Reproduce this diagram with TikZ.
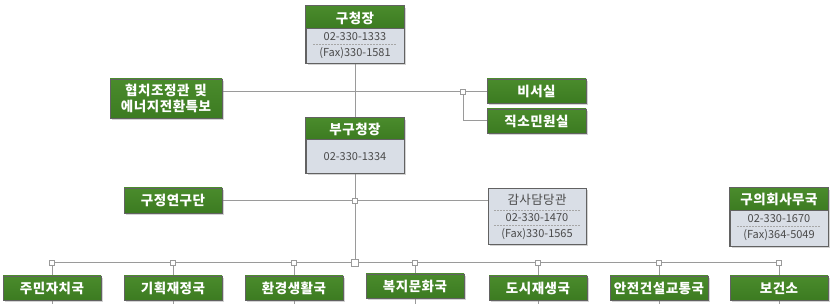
\documentclass[tikz,border=0pt]{standalone}
\usepackage{fontspec}
\setmainfont{Noto Sans CJK KR}
\usetikzlibrary{shadows,calc}
\definecolor{hdgreen}{HTML}{3C7B21}
\definecolor{hdgreenT}{HTML}{4A8B2C}
\definecolor{bodygray}{HTML}{D9DEE6}
\definecolor{boxline}{HTML}{626262}
\definecolor{conn}{HTML}{9A9A9A}
\definecolor{numtxt}{HTML}{4A4A4A}
\newcommand{\hdfont}{\bfseries\fontsize{13.5}{15}\selectfont\addfontfeatures{LetterSpace=4}}
\tikzset{
  greenbox/.style={draw=boxline, line width=0.9pt, top color=hdgreenT, bottom color=hdgreen,
    minimum width=98pt, minimum height=24pt, inner sep=0pt,
    text=white, font=\hdfont,
    drop shadow={shadow xshift=1.6pt, shadow yshift=-1.6pt, opacity=0.35}},
  graybox/.style={draw=boxline, line width=0.9pt, fill=bodygray,
    minimum width=98pt, inner sep=0pt,
    drop shadow={shadow xshift=1.6pt, shadow yshift=-1.6pt, opacity=0.35}},
  hdtxt/.style={text=white, font=\hdfont, inner sep=0pt},
  numtext/.style={text=numtxt, font=\fontsize{11}{12}\selectfont, inner sep=0pt},
  gtitle/.style={text=numtxt, font=\fontsize{12.5}{14}\selectfont\addfontfeatures{LetterSpace=3}, inner sep=0pt},
  connector/.style={draw=conn, line width=1pt},
  junc/.style={draw=conn, fill=white, line width=0.8pt, minimum size=4.5pt, inner sep=0pt},
  bigjunc/.style={draw=conn, fill=white, line width=0.8pt, minimum size=7pt, inner sep=0pt},
  dashsep/.style={draw=gray!70, line width=0.6pt, dash pattern=on 1.5pt off 1.5pt},
}
\begin{document}
\begin{tikzpicture}[x=1pt,y=-1pt]
\useasboundingbox (0,0) rectangle (833,304);
% ---- junction coordinates
\node[junc] (jr) at (463,92) {};
\node[junc] (jm) at (355,201) {};
\node[bigjunc] (jc) at (355,263) {};
\foreach \n/\x in {j1/52,j2/173,j3/294,j4/415,j5/538,j6/659,j7/779}{
  \node[junc] (\n) at (\x,263) {};
  \coordinate (\n e) at (\x,304);
}
% ---- connectors (behind boxes)
\coordinate (gcb) at (355,63);
\coordinate (bgt) at (355,118);
\coordinate (bgb) at (355,173);
\draw[connector] (gcb) -- (bgt);
\draw[connector] (bgb) -- (jm) -- (jc);
\draw[connector] (222,92) -- (jr) -- (487,92);
\draw[connector] (jr) |- (487,121);
\draw[connector] (222,201) -- (jm) -- (488,201);
\draw[connector] (j1) -- (j7);
\foreach \n in {j1,j2,j3,j4,j5,j6,j7}{ \draw[connector] (\n) -- (\n e); }
% redraw junction squares on top
\node[junc] at (jr) {};
\node[junc] at (jm) {};
\foreach \n in {j1,j2,j3,j4,j5,j6,j7}{ \node[junc] at (\n) {}; }
\node[bigjunc] at (jc) {};
% ---- 구청장
\node[graybox, minimum height=57pt] (gc) at (355,34.5) {};
\fill[top color=hdgreenT, bottom color=hdgreen] ([xshift=0.45pt,yshift=-0.45pt]gc.north west) rectangle ($(gc.north east)+(-0.45,23)$);
\draw[boxline, line width=0.9pt] (gc.north west) rectangle (gc.south east);
\draw[boxline, line width=0.6pt] ($(gc.north west)+(0,23)$) -- ($(gc.north east)+(0,23)$);
\node[hdtxt] (gct) at (355,18) {구청장};
\node[numtext] (gcn) at (355,37) {02-330-1333};
\draw[dashsep] (313,44) -- (397,44);
\node[numtext] (gcf) at (355,53.5) {(Fax)330-1581};
% ---- 부구청장
\node[graybox, minimum height=55pt] (bg) at (355,145.5) {};
\fill[top color=hdgreenT, bottom color=hdgreen] ([xshift=0.45pt,yshift=-0.45pt]bg.north west) rectangle ($(bg.north east)+(-0.45,22)$);
\draw[boxline, line width=0.9pt] (bg.north west) rectangle (bg.south east);
\draw[boxline, line width=0.6pt] ($(bg.north west)+(0,22)$) -- ($(bg.north east)+(0,22)$);
\node[hdtxt] (bgt2) at (355,129.5) {부구청장};
\node[numtext] (bgn) at (355,157) {02-330-1334};
% ---- side boxes
\node[greenbox, minimum width=112pt, minimum height=39pt, align=center,
      font=\bfseries\fontsize{13.5}{15.5}\selectfont\addfontfeatures{LetterSpace=4}] (hj) at (166,98.5) {협치조정관\hspace{5pt}및\\에너지전환특보};
\node[greenbox, minimum width=99pt] (bs) at (536.5,91) {비서실};
\node[greenbox, minimum width=99pt] (js) at (536.5,121) {직소민원실};
\node[greenbox, minimum height=25pt] (gy) at (173,200.5) {구정연구단};
% ---- 감사담당관
\node[graybox, minimum height=56pt] (gs) at (537,216) {};
\node[gtitle] (gst) at (537,200) {감사담당관};
\draw[dashsep] (494,210) -- (580,210);
\node[numtext] (gsn) at (537,218) {02-330-1470};
\draw[dashsep] (494,225.5) -- (580,225.5);
\node[numtext] (gsf) at (537,234) {(Fax)330-1565};
% ---- 구의회사무국
\node[graybox, minimum height=58pt] (gh) at (779,217) {};
\fill[top color=hdgreenT, bottom color=hdgreen] ([xshift=0.45pt,yshift=-0.45pt]gh.north west) rectangle ($(gh.north east)+(-0.45,23)$);
\draw[boxline, line width=0.9pt] (gh.north west) rectangle (gh.south east);
\draw[boxline, line width=0.6pt] ($(gh.north west)+(0,23)$) -- ($(gh.north east)+(0,23)$);
\node[hdtxt] (ght) at (779,199.5) {구의회사무국};
\node[numtext] (ghn) at (779,218.5) {02-330-1670};
\draw[dashsep] (737,226) -- (821,226);
\node[numtext] (ghf) at (779,235) {(Fax)364-5049};
% ---- bottom row
\node[greenbox] (b1) at (52,288) {주민자치국};
\node[greenbox] (b2) at (173,288) {기획재정국};
\node[greenbox] (b3) at (294,288) {환경생활국};
\node[greenbox] (b4) at (415,286) {복지문화국};
\node[greenbox] (b5) at (538,288) {도시재생국};
\node[greenbox] (b6) at (659,288) {안전건설교통국};
\node[greenbox] (b7) at (779,288) {보건소};
\end{tikzpicture}
\end{document}
